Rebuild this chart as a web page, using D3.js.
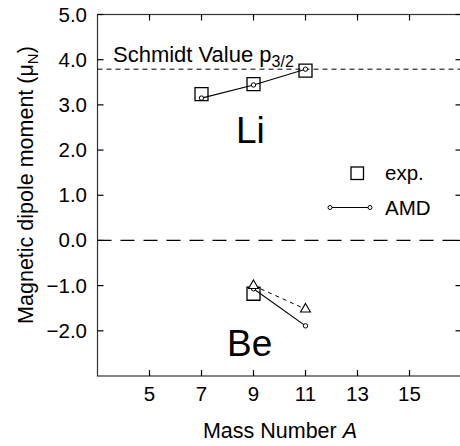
<!DOCTYPE html>
<html><head><meta charset="utf-8">
<script src="https://cdn.jsdelivr.net/npm/d3@7"></script>
<style>body{margin:0;background:#fff}svg{display:block}text{font-family:"Liberation Sans",Arial,Helvetica,sans-serif;fill:#000}</style>
</head><body>
<script>
// Data
const liMass = [7, 9, 11];
const liExp = [3.24, 3.46, 3.76];
const liAMD = [3.15, 3.44, 3.79];
const beMass = [9, 11];
const beExp = [-1.18];
const beExpMass = [9];
const beAMD = [-1.07, -1.89];
const beAMD2 = [-1.0, -1.52];
const schmidt = 3.79;
const xTicks = [5, 7, 9, 11, 13, 15];
const yTicks = [-2, -1, 0, 1, 2, 3, 4, 5];

const W = 460, H = 446;
const svg = d3.select("body").append("svg").attr("width", W).attr("height", H);
const x = d3.scaleLinear().domain([3, 17]).range([97.5, 461.5]);
const y = d3.scaleLinear().domain([-3, 5]).range([376, 14.5]);
const x0 = x.range()[0], x1 = x.range()[1], yT = y.range()[1], yB = y.range()[0];
const TL = 6;

// frame
svg.append("rect").attr("x", x0).attr("y", yT).attr("width", x1 - x0).attr("height", yB - yT)
  .attr("fill", "none").attr("stroke", "#333").attr("stroke-width", 1.2);

// ticks (inward) all four sides
const g = svg.append("g").attr("stroke", "#000").attr("stroke-width", 1.2);
xTicks.forEach(t => {
  g.append("line").attr("x1", x(t)).attr("x2", x(t)).attr("y1", yB).attr("y2", yB - TL);
  g.append("line").attr("x1", x(t)).attr("x2", x(t)).attr("y1", yT).attr("y2", yT + TL);
});
yTicks.forEach(t => {
  g.append("line").attr("x1", x0).attr("x2", x0 + TL).attr("y1", y(t)).attr("y2", y(t));
  g.append("line").attr("x1", x1).attr("x2", x1 - TL).attr("y1", y(t)).attr("y2", y(t));
});

// tick labels
const fmtY = d => (d < 0 ? "\u2212" : "") + Math.abs(d).toFixed(1);
svg.append("g").selectAll("text").data(xTicks).join("text")
  .attr("x", d => x(d)).attr("y", 401).attr("text-anchor", "middle")
  .attr("font-size", 20.5).text(d => d);
svg.append("g").selectAll("text").data(yTicks).join("text")
  .attr("x", 87).attr("y", d => y(d) + 7).attr("text-anchor", "end")
  .attr("font-size", 20.5).text(fmtY);

// axis titles
const xt = svg.append("text").attr("x", 280).attr("y", 438).attr("text-anchor", "middle").attr("font-size", 21.5);
xt.append("tspan").text("Mass Number ");
xt.append("tspan").attr("font-style", "italic").text("A");
const yt = svg.append("text").attr("transform", "translate(33,185) rotate(-90)").attr("text-anchor", "middle").attr("font-size", 21.5);
yt.append("tspan").text("Magnetic dipole moment (\u03bc");
yt.append("tspan").attr("font-size", 15).attr("dy", 5).text("N");
yt.append("tspan").attr("dy", -5).text(")");

// reference lines
svg.append("line").attr("x1", x0).attr("x2", x1).attr("y1", y(schmidt)).attr("y2", y(schmidt))
  .attr("stroke", "#000").attr("stroke-width", 1).attr("stroke-dasharray", "5,4");
svg.append("line").attr("x1", x0).attr("x2", x1).attr("y1", y(0)).attr("y2", y(0))
  .attr("stroke", "#000").attr("stroke-width", 1.2).attr("stroke-dasharray", "14,9");

// Schmidt label
const st = svg.append("text").attr("x", 113).attr("y", 62).attr("font-size", 22);
st.append("tspan").text("Schmidt Value p");
st.append("tspan").attr("font-size", 16).attr("dy", 5).text("3/2");

// element labels
svg.append("text").attr("x", 236).attr("y", 143).attr("font-size", 37).text("Li");
svg.append("text").attr("x", 227).attr("y", 356).attr("font-size", 37).text("Be");

const line = d3.line().x(d => x(d[0])).y(d => y(d[1]));
const sq = d3.symbol().type(d3.symbolSquare).size(13 * 13);
const tri = d3.symbol().type(d3.symbolTriangle).size(42);

// exp squares
svg.append("g").selectAll("path").data(liMass.map((m, i) => [m, liExp[i]]).concat(beExpMass.map((m, i) => [m, beExp[i]])))
  .join("path").attr("d", sq).attr("transform", d => `translate(${x(d[0])},${y(d[1])})`)
  .attr("fill", "none").attr("stroke", "#000").attr("stroke-width", 1.3);

// AMD lines
const liPts = liMass.map((m, i) => [m, liAMD[i]]);
const bePts = beMass.map((m, i) => [m, beAMD[i]]);
const be2Pts = beMass.map((m, i) => [m, beAMD2[i]]);
svg.append("path").attr("d", line(liPts)).attr("fill", "none").attr("stroke", "#000").attr("stroke-width", 1.1);
svg.append("path").attr("d", line(bePts)).attr("fill", "none").attr("stroke", "#000").attr("stroke-width", 1.1);
svg.append("path").attr("d", line(be2Pts)).attr("fill", "none").attr("stroke", "#000").attr("stroke-width", 1).attr("stroke-dasharray", "4,4");

svg.append("g").selectAll("circle").data(liPts.concat(bePts)).join("circle")
  .attr("cx", d => x(d[0])).attr("cy", d => y(d[1])).attr("r", 2.2)
  .attr("fill", "#fff").attr("stroke", "#000").attr("stroke-width", 1);
svg.append("g").selectAll("path").data(be2Pts).join("path").attr("d", tri)
  .attr("transform", d => `translate(${x(d[0])},${y(d[1])})`)
  .attr("fill", "#fff").attr("stroke", "#000").attr("stroke-width", 1.1);

// legend
svg.append("rect").attr("x", 351).attr("y", 167).attr("width", 12.5).attr("height", 12.5)
  .attr("fill", "none").attr("stroke", "#000").attr("stroke-width", 1.3);
svg.append("text").attr("x", 385).attr("y", 180).attr("font-size", 20.5).text("exp.");
svg.append("line").attr("x1", 330).attr("x2", 370).attr("y1", 207.5).attr("y2", 207.5).attr("stroke", "#000").attr("stroke-width", 1.1);
[330, 370].forEach(cx => svg.append("circle").attr("cx", cx).attr("cy", 207.5).attr("r", 2)
  .attr("fill", "#fff").attr("stroke", "#000").attr("stroke-width", 1));
svg.append("text").attr("x", 385).attr("y", 215).attr("font-size", 20.5).text("AMD");
</script>
</body></html>
